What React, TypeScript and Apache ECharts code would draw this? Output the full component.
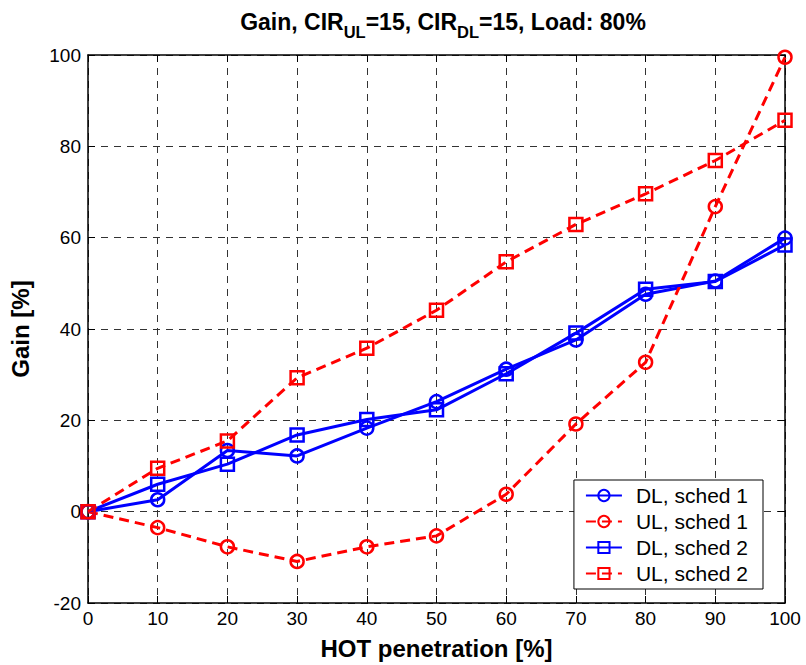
import React, { useEffect, useRef } from "react";
import * as echarts from "echarts";

const penetration = [0, 10, 20, 30, 40, 50, 60, 70, 80, 90, 100];
const dlSched1 = [0, 2.6, 13.4, 12.2, 18.3, 24.1, 31.2, 37.6, 47.6, 50.5, 59.9];
const ulSched1 = [0, -3.5, -7.7, -10.9, -7.7, -5.3, 3.8, 19.2, 32.7, 66.8, 99.5];
const dlSched2 = [0, 6.0, 10.4, 16.8, 20.2, 22.3, 30.2, 39.1, 48.7, 50.4, 58.4];
const ulSched2 = [0, 9.5, 15.5, 29.3, 35.8, 44.1, 54.7, 62.9, 69.6, 76.9, 85.7];
const seriesNames = ["DL, sched 1", "UL, sched 1", "DL, sched 2", "UL, sched 2"];

const FONT = "'Liberation Sans', Arial, Helvetica, sans-serif";

export default function App() {
  const ref = useRef<HTMLDivElement>(null);
  useEffect(() => {
    if (!ref.current) return;
    const chart = echarts.init(ref.current, null, { renderer: "svg" });
    const mk = (
      name: string,
      vals: number[],
      color: string,
      symbol: string,
      dashed: boolean
    ) => ({
      name,
      type: "line",
      data: penetration.map((x, i) => [x, vals[i]]),
      symbol,
      symbolSize: 13,
      showAllSymbol: true,
      lineStyle: { color, width: 3, type: dashed ? [10, 6] : "solid" },
      itemStyle: { color: "rgba(0,0,0,0)", borderColor: color, borderWidth: 2.5 },
      emphasis: { disabled: true },
    });
    const black = "#000";
    chart.setOption({
      animation: false,
      backgroundColor: "#fff",
      textStyle: { fontFamily: FONT },
      title: {
        text: "{b|Gain, CIR}{s|UL}{b|=15, CIR}{s|DL}{b|=15, Load: 80%}",
        left: 438,
        textAlign: "center",
        top: 5,
        textStyle: {
          rich: {
            b: { fontSize: 23, fontWeight: "bold", fontFamily: FONT, color: black, lineHeight: 26, verticalAlign: "top" },
            s: { fontSize: 16.5, fontWeight: "bold", fontFamily: FONT, color: black, lineHeight: 17, padding: [13, 0, 0, 0], verticalAlign: "top" },
          },
        },
      },
      grid: { left: 88, right: 21, top: 55, bottom: 62, containLabel: false },
      legend: {
        orient: "vertical",
        right: 43,
        top: 480,
        data: seriesNames,
        itemWidth: 36,
        itemHeight: 14,
        itemGap: 5,
        padding: [5, 15, 5, 11],
        backgroundColor: "#fff",
        borderColor: black,
        borderWidth: 1,
        borderRadius: 0,
        textStyle: { fontSize: 21, color: black, fontFamily: FONT, padding: [0, 0, 0, 9], lineHeight: 21 },
        selectedMode: false,
      },
      xAxis: [
        {
          type: "value",
          min: 0,
          max: 100,
          interval: 10,
          name: "HOT penetration [%]",
          nameLocation: "middle",
          nameGap: 33,
          nameTextStyle: { fontSize: 24, fontWeight: "bold", color: black, fontFamily: FONT },
          axisLine: { show: true, onZero: false, lineStyle: { color: black, width: 1.5 } },
          axisTick: { show: true, inside: true, length: 7, lineStyle: { color: black, width: 1 } },
          axisLabel: { fontSize: 19, color: black, margin: 6, fontFamily: FONT },
          splitLine: { show: true, lineStyle: { color: "#333", width: 1, type: [7, 6] } },
        },
        {
          type: "value",
          position: "top",
          min: 0,
          max: 100,
          interval: 10,
          axisLine: { show: true, onZero: false, lineStyle: { color: black, width: 1.5 } },
          axisTick: { show: true, inside: true, length: 7, lineStyle: { color: black, width: 1 } },
          axisLabel: { show: false },
          splitLine: { show: false },
        },
      ],
      yAxis: [
        {
          type: "value",
          min: -20,
          max: 100,
          interval: 20,
          name: "Gain [%]",
          nameLocation: "middle",
          nameGap: 56,
          nameTextStyle: { fontSize: 24, fontWeight: "bold", color: black, fontFamily: FONT },
          axisLine: { show: true, onZero: false, lineStyle: { color: black, width: 1.5 } },
          axisTick: { show: true, inside: true, length: 7, lineStyle: { color: black, width: 1 } },
          axisLabel: { fontSize: 19, color: black, margin: 7, fontFamily: FONT },
          splitLine: { show: true, lineStyle: { color: "#333", width: 1, type: [7, 6] } },
        },
        {
          type: "value",
          position: "right",
          min: -20,
          max: 100,
          interval: 20,
          axisLine: { show: true, onZero: false, lineStyle: { color: black, width: 1.5 } },
          axisTick: { show: true, inside: true, length: 7, lineStyle: { color: black, width: 1 } },
          axisLabel: { show: false },
          splitLine: { show: false },
        },
      ],
      series: [
        mk(seriesNames[0], dlSched1, "#0000ff", "circle", false),
        mk(seriesNames[1], ulSched1, "#ff0000", "circle", true),
        mk(seriesNames[2], dlSched2, "#0000ff", "rect", false),
        mk(seriesNames[3], ulSched2, "#ff0000", "rect", true),
      ],
    });
    return () => chart.dispose();
  }, []);
  return <div ref={ref} style={{ width: 806, height: 665, position: "absolute", left: 0, top: 0 }} />;
}
